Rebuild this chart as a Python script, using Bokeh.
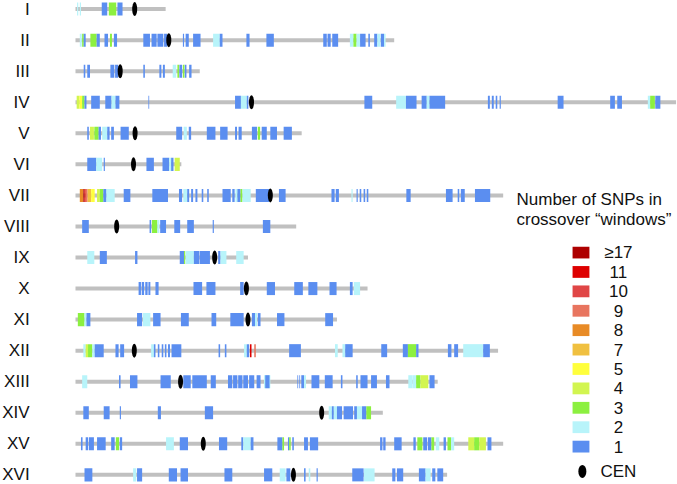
from bokeh.plotting import figure
from bokeh.models import Range1d
from bokeh.embed import file_html
from bokeh.resources import INLINE
from bokeh.core.properties import value

# ---------------- data ----------------
chrom_names = ["I", "II", "III", "IV", "V", "VI", "VII", "VIII",
               "IX", "X", "XI", "XII", "XIII", "XIV", "XV", "XVI"]
chrom_len_kb = [230, 813, 317, 1532, 577, 270, 1091, 563,
                440, 745, 667, 1078, 924, 784, 1091, 948]
cen_kb = [151, 238, 114, 449, 152, 148, 497, 105,
          355, 436, 440, 150, 268, 628, 326, 556]

# crossover windows: (start kb, end kb, number of SNPs)
win_I = [(4, 7, 2), (11, 14, 2), (67, 81, 1), (85, 104, 3), (107, 120, 1)]
win_II = [(11, 16, 2), (17, 21, 3), (21, 26, 1), (38, 54, 3), (54, 62, 1), (74, 83, 1),
          (88, 93, 3), (98, 106, 1), (173, 190, 1), (194, 207, 1), (209, 224, 1),
          (226, 234, 1), (274, 277, 1), (281, 289, 1), (300, 319, 1), (351, 368, 2),
          (368, 375, 1), (436, 444, 1), (487, 506, 1), (632, 641, 1), (643, 651, 1),
          (655, 670, 1), (700, 709, 2), (709, 717, 3), (717, 726, 2), (726, 740, 1),
          (747, 751, 1), (762, 770, 1), (770, 778, 2), (779, 787, 1), (787, 791, 2)]
win_III = [(21, 25, 1), (30, 37, 1), (89, 99, 1), (101, 109, 1), (173, 177, 1),
           (214, 219, 1), (223, 228, 1), (248, 257, 2), (260, 264, 3), (265, 272, 1),
           (274, 278, 3), (279, 283, 1), (290, 296, 1)]
win_IV = [(3, 10, 4), (10, 17, 5), (17, 23, 3), (23, 28, 1), (40, 62, 1), (76, 92, 1),
          (92, 102, 2), (102, 112, 1), (186, 188, 1), (407, 422, 1), (422, 437, 2),
          (437, 441, 1), (737, 757, 1), (818, 843, 2), (843, 870, 1), (883, 896, 1),
          (896, 903, 2), (903, 943, 1), (1052, 1057, 1), (1062, 1067, 1), (1072, 1076, 1),
          (1082, 1085, 1), (1230, 1245, 1), (1364, 1376, 1), (1382, 1394, 1),
          (1460, 1466, 2), (1466, 1478, 3), (1479, 1492, 1)]
win_V = [(30, 34, 1), (37, 47, 4), (48, 59, 3), (59, 65, 1), (68, 81, 2), (81, 87, 1),
         (91, 98, 1), (115, 136, 1), (257, 272, 1), (276, 284, 2), (289, 295, 1),
         (335, 357, 1), (369, 388, 1), (407, 412, 1), (416, 424, 1), (450, 463, 1),
         (465, 471, 3), (475, 488, 1), (497, 514, 1), (531, 552, 1)]
win_VI = [(30, 53, 1), (53, 68, 2), (72, 75, 1), (181, 200, 1), (222, 239, 1),
          (239, 244, 2), (244, 250, 1), (253, 266, 4)]
win_VII = [(11, 20, 8), (20, 23, 17), (23, 26, 11), (26, 31, 9), (31, 40, 7), (40, 49, 5),
           (55, 62, 4), (62, 71, 3), (71, 79, 1), (79, 100, 2), (123, 140, 1),
           (196, 236, 1), (264, 272, 1), (275, 285, 2), (285, 290, 1), (295, 300, 1),
           (306, 311, 1), (322, 326, 1), (336, 340, 1), (375, 396, 1), (400, 406, 1),
           (408, 413, 2), (413, 421, 1), (421, 426, 3), (426, 447, 2), (460, 494, 1),
           (519, 536, 1), (653, 661, 1), (664, 672, 1), (704, 707, 2), (717, 720, 1),
           (725, 729, 1), (735, 739, 1), (743, 747, 1), (844, 855, 1), (945, 962, 1),
           (975, 979, 1), (983, 993, 1), (1019, 1058, 1)]
win_VIII = [(17, 34, 1), (189, 193, 1), (195, 209, 3), (209, 214, 2), (216, 231, 1),
            (252, 267, 1), (285, 302, 1), (350, 353, 1), (478, 497, 1)]
win_IX = [(30, 48, 2), (62, 80, 1), (152, 158, 1), (266, 277, 1), (277, 280, 3),
          (281, 302, 2), (302, 316, 1), (317, 343, 1), (364, 370, 1), (370, 385, 2),
          (410, 429, 2)]
win_X = [(161, 167, 1), (169, 175, 1), (178, 184, 1), (186, 191, 1), (204, 212, 1),
         (301, 323, 1), (334, 357, 1), (420, 429, 1), (488, 509, 1), (558, 580, 1),
         (594, 617, 1), (648, 666, 1), (700, 707, 1), (710, 726, 2)]
win_XI = [(6, 23, 3), (23, 28, 2), (28, 38, 1), (157, 170, 1), (172, 191, 2),
          (198, 217, 1), (269, 289, 1), (347, 359, 1), (395, 429, 1), (450, 458, 1),
          (458, 463, 2), (465, 472, 1), (514, 533, 1), (637, 657, 1)]
win_XII = [(20, 26, 2), (26, 32, 4), (32, 43, 3), (43, 49, 2), (49, 72, 1), (102, 110, 1),
           (114, 124, 1), (193, 200, 2), (200, 204, 1), (210, 214, 1), (220, 224, 1),
           (228, 232, 1), (236, 241, 1), (245, 270, 1), (365, 369, 1), (381, 385, 1),
           (430, 437, 2), (437, 443, 1), (445, 449, 11), (456, 460, 9), (545, 575, 1),
           (662, 669, 2), (681, 688, 2), (688, 707, 1), (780, 795, 1), (835, 848, 1),
           (848, 869, 3), (869, 875, 1), (950, 959, 1), (966, 976, 1), (989, 1040, 2),
           (1040, 1057, 1)]
win_XIII = [(17, 30, 2), (111, 115, 1), (139, 158, 1), (217, 243, 1), (275, 294, 1),
            (298, 335, 1), (345, 358, 1), (389, 400, 1), (402, 413, 1), (415, 426, 1),
            (428, 440, 1), (443, 456, 1), (462, 472, 1), (481, 497, 2), (484, 495, 1),
            (566, 568, 1), (571, 573, 1), (576, 583, 1), (583, 588, 2), (602, 622, 1),
            (636, 656, 1), (677, 681, 1), (716, 720, 1), (727, 745, 1), (754, 769, 1),
            (792, 801, 1), (849, 860, 2), (860, 869, 2), (869, 880, 3), (880, 900, 4),
            (903, 916, 1)]
win_XIV = [(20, 34, 1), (72, 87, 1), (113, 116, 1), (210, 218, 1), (330, 351, 1),
           (646, 654, 2), (654, 659, 1), (659, 667, 2), (667, 680, 1), (684, 708, 1),
           (711, 718, 1), (718, 731, 2), (731, 742, 1), (742, 754, 3)]
win_XV = [(14, 18, 1), (26, 32, 1), (34, 47, 1), (55, 77, 1), (91, 100, 1), (103, 111, 3),
          (113, 119, 1), (231, 251, 2), (266, 287, 1), (366, 387, 1), (423, 428, 1),
          (428, 447, 2), (447, 454, 1), (515, 528, 1), (528, 532, 3), (542, 545, 1),
          (545, 549, 3), (553, 557, 1), (583, 593, 1), (598, 619, 1), (777, 783, 1),
          (785, 791, 1), (813, 832, 1), (862, 868, 1), (872, 885, 3), (887, 897, 1),
          (899, 908, 1), (908, 915, 3), (919, 928, 2), (939, 945, 1), (949, 958, 3),
          (958, 966, 2), (1002, 1017, 4), (1017, 1030, 3), (1030, 1047, 4),
          (1051, 1061, 1)]
win_XVI = [(23, 43, 1), (147, 155, 2), (157, 170, 1), (238, 259, 1), (268, 287, 1),
           (380, 400, 1), (481, 502, 1), (521, 536, 2), (538, 548, 1), (583, 587, 1),
           (595, 599, 2), (615, 618, 1), (706, 735, 1), (736, 763, 2), (808, 816, 1),
           (820, 836, 1), (876, 893, 1), (893, 906, 2), (910, 918, 1), (923, 938, 1)]

windows = [win_I, win_II, win_III, win_IV, win_V, win_VI, win_VII, win_VIII,
           win_IX, win_X, win_XI, win_XII, win_XIII, win_XIV, win_XV, win_XVI]

snp_labels = ["≥17", "11", "10", "9", "8", "7", "5", "4", "3", "2", "1"]
snp_codes = [17, 11, 10, 9, 8, 7, 5, 4, 3, 2, 1]
snp_colors = ["#AE0000", "#DE0000", "#E04646", "#E8755F", "#E88B26", "#F0C040",
              "#FFFF3C", "#D2F550", "#8CF040", "#B8F4FA", "#5B8EF0"]
color_of = dict(zip(snp_codes, snp_colors))

# ---------------- figure ----------------
FONT = value("Liberation Sans")
FS = "17px"
p = figure(width=677, height=484,
           x_range=Range1d(-191.3, 1535.7), y_range=Range1d(15.31, -0.277),
           x_axis_location=None, y_axis_location=None,
           output_backend="svg", toolbar_location=None, min_border=0)
p.grid.visible = False
p.outline_line_color = None

rows = list(range(len(chrom_names)))

# chromosome backbones
p.segment(x0=[0] * len(rows), y0=rows, x1=chrom_len_kb, y1=rows,
          line_width=4, line_color="#C0C0C0")

# crossover windows
left, right, top, bottom, fill = [], [], [], [], []
for r, wins in zip(rows, windows):
    for (s, e, n) in wins:
        left.append(s)
        right.append(e)
        top.append(r - 0.21)
        bottom.append(r + 0.21)
        fill.append(color_of[n])
p.quad(left=left, right=right, top=top, bottom=bottom,
       fill_color=fill, line_color=None)

# centromeres
p.ellipse(x=cen_kb, y=rows, width=5, height=14,
          width_units="screen", height_units="screen",
          fill_color="black", line_color=None)

# chromosome labels
p.text(x=[-117] * len(rows), y=rows, text=chrom_names,
       text_align="right", text_baseline="middle",
       text_font=FONT, text_font_size=FS, text_color="#111111")

# ---------------- legend ----------------
p.text(x=[1125, 1125], y=[6.13, 6.78],
       text=["Number of SNPs in", "crossover \u201cwindows\u201d"],
       text_align="left", text_baseline="middle",
       text_font=FONT, text_font_size=FS, text_color="#111111")

leg_y = [7.84 + 0.625 * i for i in range(len(snp_labels))]
p.quad(left=[1268] * len(leg_y), right=[1311] * len(leg_y),
       top=[y - 0.19 for y in leg_y], bottom=[y + 0.19 for y in leg_y],
       fill_color=snp_colors, line_color=None)
p.text(x=[1385] * len(leg_y), y=leg_y, text=snp_labels,
       text_align="center", text_baseline="middle",
       text_font=FONT, text_font_size=FS, text_color="#111111")

p.ellipse(x=[1293], y=[14.89], width=8, height=13,
          width_units="screen", height_units="screen",
          fill_color="black", line_color=None)
p.text(x=[1385], y=[14.89], text=["CEN"],
       text_align="center", text_baseline="middle",
       text_font=FONT, text_font_size=FS, text_color="#111111")

open("out.html", "w").write(file_html(p, INLINE))
